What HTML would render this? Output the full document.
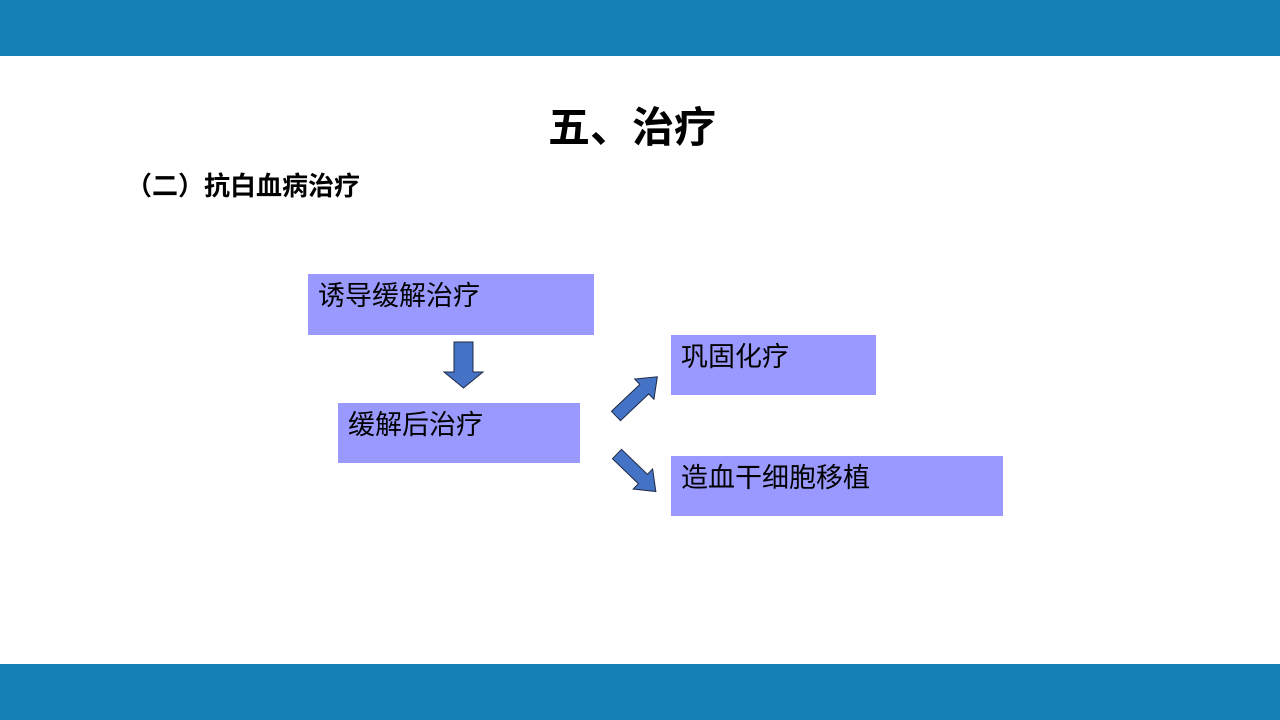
<!DOCTYPE html>
<html><head><meta charset="utf-8"><style>
body{margin:0;width:1280px;height:720px;position:relative;background:#fff;overflow:hidden;font-family:"Liberation Sans","Noto Sans CJK SC",sans-serif;}
.bar{position:absolute;left:0;width:1280px;background:#157fb8;}
.t{position:absolute;white-space:nowrap;color:#000;}
.box{position:absolute;background:#9999ff;}
.box span{position:absolute;left:10px;top:0px;font-size:27px;white-space:nowrap;}
</style></head><body>
<div class="bar" style="top:0;height:56px"></div>
<div class="bar" style="top:664px;height:56px"></div>
<div class="t" style="left:548px;top:102px;font-size:42px;font-weight:bold;line-height:52px">五、治疗</div>
<div class="t" style="left:126px;top:170px;font-size:26px;font-weight:bold;line-height:32px">（二）抗白血病治疗</div>
<div class="box" style="left:308px;top:274px;width:286px;height:61px"><span>诱导缓解治疗</span></div>
<div class="box" style="left:338px;top:403px;width:242px;height:60px"><span>缓解后治疗</span></div>
<div class="box" style="left:671px;top:335px;width:205px;height:60px"><span>巩固化疗</span></div>
<div class="box" style="left:671px;top:456px;width:332px;height:60px"><span>造血干细胞移植</span></div>
<svg width="1280" height="720" style="position:absolute;left:0;top:0">
<g fill="#4472c4" stroke="#1f2a44" stroke-width="1">
<polygon points="454,342 473,342 473,372 483,372 463.5,388 444,372 454,372"/>
<polygon transform="translate(616,416) rotate(-43.5)" points="0,-6.5 39,-6.5 39,-14 57,0 39,14 39,6.5 0,6.5"/>
<polygon transform="translate(617,454) rotate(44)" points="0,-6.5 36,-6.5 36,-14 54,0 36,14 36,6.5 0,6.5"/>
</g>
</svg>
</body></html>
